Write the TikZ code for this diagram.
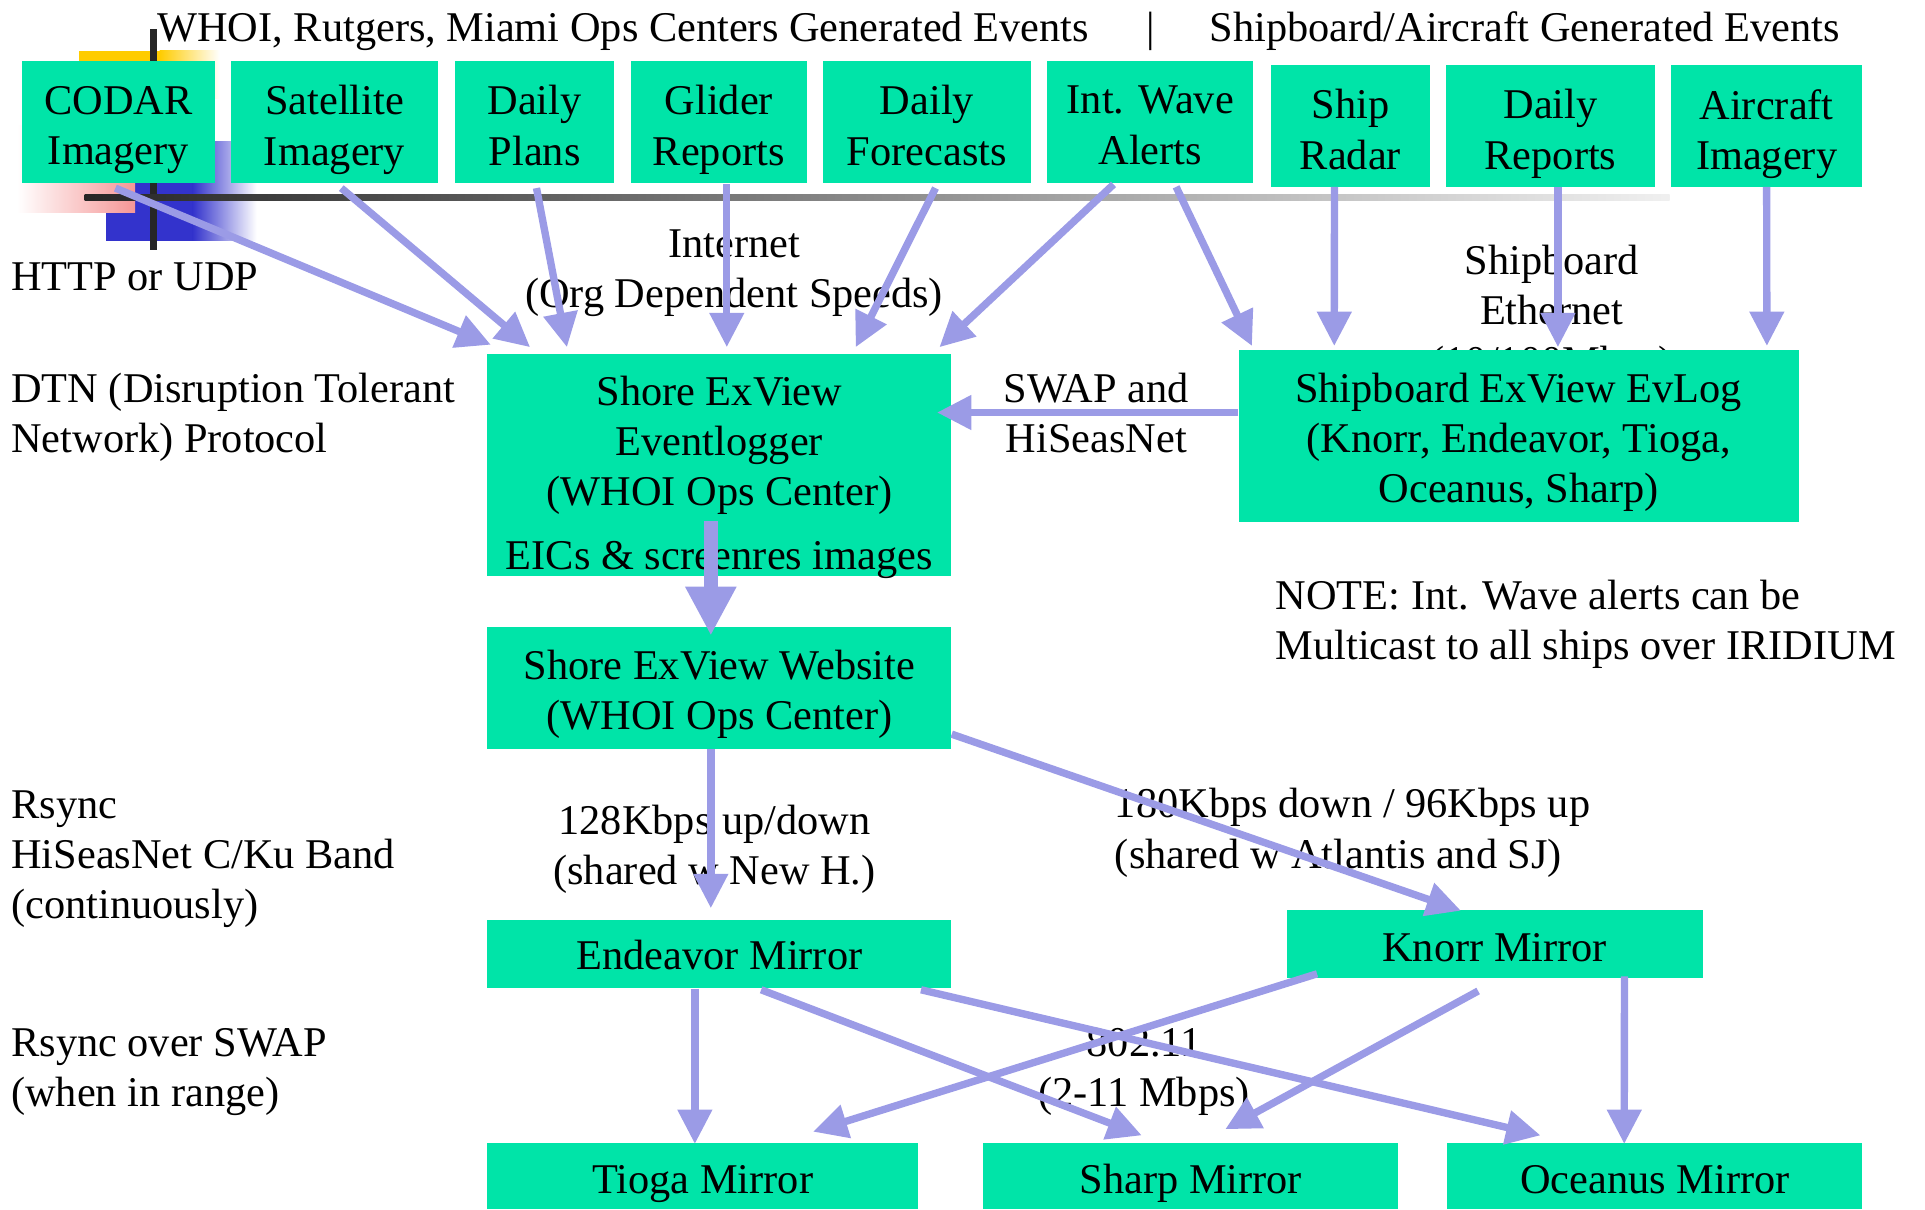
\documentclass[tikz,border=0pt]{standalone}
\usepackage{fontspec}
\setmainfont{Liberation Serif}
\usetikzlibrary{arrows.meta,calc}
\definecolor{boxgreen}{RGB}{0,228,168}
\definecolor{arrowc}{RGB}{155,155,230}
\definecolor{logoblue}{RGB}{51,51,204}
\definecolor{logoyellow}{RGB}{255,204,0}
\definecolor{logopink}{RGB}{245,150,150}
\tikzset{
  box/.style={fill=boxgreen, draw=none, inner sep=0pt},
  txt/.style={inner sep=0pt, align=center, font=\fontsize{34.5}{41}\selectfont,
    execute at begin node=\strut, execute at end node=\strut},
  ltxt/.style={txt, align=left, anchor=west},
  conn/.style={draw=arrowc, line width=6pt, -{Triangle[width=27pt,length=28pt]}},
  bigconn/.style={draw=arrowc, line width=11pt, -{Triangle[width=39pt,length=40pt]}}
}
\begin{document}
\begin{tikzpicture}[x=1pt,y=-1pt]
\useasboundingbox (0,0) rectangle (1568,985);
% logo decoration
\fill[logoyellow] (64,41.5) rectangle (130,80);
\shade[left color=logoyellow, right color=white] (130,41.5) rectangle (179,80);
\fill[logoblue] (86,115) rectangle (157,196);
\shade[left color=logoblue, right color=white] (157,115) rectangle (209,196);
\shade[left color=white, right color=logopink] (14,102) rectangle (110,173);
\fill[black!85] (122.5,24) rectangle (127.5,204);
\shade[left color=black!85, right color=black!6] (69,158.5) rectangle (1360,163.5);

% background texts that boxes partly cover
\node[txt] (ethernet) at (1264,258.7) {Shipboard\\Ethernet\\(10/100Mbps)};

% boxes
\node[box, minimum width=157pt, minimum height=99pt] (codar) at (96.5,99.5) {};
\node[box, minimum width=169pt, minimum height=99pt] (sat) at (272.5,99.5) {};
\node[box, minimum width=129pt, minimum height=99pt] (plans) at (435.5,99.5) {};
\node[box, minimum width=143pt, minimum height=99pt] (glider) at (585.5,99.5) {};
\node[box, minimum width=170pt, minimum height=99pt] (fcst) at (755,99.5) {};
\node[box, minimum width=168pt, minimum height=99pt] (iwave) at (937,99.5) {};
\node[box, minimum width=130pt, minimum height=99pt] (radar) at (1100,102.5) {};
\node[box, minimum width=170pt, minimum height=99pt] (reports) at (1263,102.5) {};
\node[box, minimum width=156pt, minimum height=99pt] (aircraft) at (1439,102.5) {};
\node[box, minimum width=378pt, minimum height=181pt] (evl) at (586,378.5) {};
\node[box, minimum width=456pt, minimum height=140pt] (sbl) at (1237,355) {};
\node[box, minimum width=378pt, minimum height=99pt] (web) at (586,560.5) {};
\node[box, minimum width=378pt, minimum height=56pt] (endeavor) at (586,777) {};
\node[box, minimum width=339pt, minimum height=56pt] (knorr) at (1217.5,769) {};
\node[box, minimum width=351pt, minimum height=54pt] (tioga) at (572.5,958) {};
\node[box, minimum width=338pt, minimum height=54pt] (sharp) at (970,958) {};
\node[box, minimum width=338pt, minimum height=54pt] (oceanus) at (1348,958) {};

% box texts
\node[txt] (codar-t) at (96.5,108.2) {CODAR\\Imagery};
\node[txt] (sat-t) at (272.5,108.2) {Satellite\\Imagery};
\node[txt] (plans-t) at (435.5,108.2) {Daily\\Plans};
\node[txt] (glider-t) at (585.5,108.2) {Glider\\Reports};
\node[txt] (fcst-t) at (755,108.2) {Daily\\Forecasts};
\node[txt] (iwave-t) at (937,108.2) {Int. Wave\\Alerts};
\node[txt] (radar-t) at (1100,111.5) {Ship\\Radar};
\node[txt] (reports-t) at (1263,111.5) {Daily\\Reports};
\node[txt] (aircraft-t) at (1439,111.5) {Aircraft\\Imagery};
\node[txt] (evl-t) at (586,391.2) {Shore ExView\\Eventlogger\\(WHOI Ops Center)\\[11pt]EICs \& screenres images};
\node[txt] (sbl-t) at (1237,362.7) {Shipboard ExView EvLog\\(Knorr, Endeavor, Tioga,\\Oceanus, Sharp)};
\node[txt] (web-t) at (586,568.2) {Shore ExView Website\\(WHOI Ops Center)};
\node[txt] (endeavor-t) at (586,781.2) {Endeavor Mirror};
\node[txt] (knorr-t) at (1217.5,775.2) {Knorr Mirror};
\node[txt] (tioga-t) at (572.5,964.2) {Tioga Mirror};
\node[txt] (sharp-t) at (970,964.2) {Sharp Mirror};
\node[txt] (oceanus-t) at (1348,964.2) {Oceanus Mirror};

% free texts
\node[ltxt] (title1) at (128,25.2) {WHOI, Rutgers, Miami Ops Centers Generated Events};
\node[txt] (bar) at (937,25.2) {|};
\node[ltxt] (title2) at (985,25.2) {Shipboard/Aircraft Generated Events};
\node[ltxt] (http) at (9,228.2) {HTTP or UDP};
\node[txt] (internet) at (598,225.2) {Internet\\(Org Dependent Speeds)};
\node[ltxt] (dtn) at (9,342.2) {DTN (Disruption Tolerant\\Network) Protocol};
\node[txt] (swap) at (893,342.2) {SWAP and\\HiSeasNet};
\node[ltxt] (note) at (1039,511.2) {NOTE: Int. Wave alerts can be\\Multicast to all ships over IRIDIUM};
\node[ltxt] (rsync) at (9,702.2) {Rsync\\HiSeasNet C/Ku Band\\(continuously)};
\node[txt] (bw1) at (582,694.2) {128Kbps up/down\\(shared w New H.)};
\node[ltxt] (bw2) at (908,680.7) {180Kbps down / 96Kbps up\\(shared w Atlantis and SJ)};
\node[ltxt] (rswap) at (9,875.7) {Rsync over SWAP\\(when in range)};
\node[txt] (wifi) at (932,875.7) {802.11\\(2-11 Mbps)};

% connectors
\draw[conn] ($(codar.south)+(-2.5,4)$) -- ($(evl.north west)+(3,-7)$);
\draw[conn] ($(sat.south)+(5.5,4)$) -- ($(evl.north west)+(35,-5)$);
\draw[conn] ($(plans.south)+(1.5,4)$) -- ($(evl.north west)+(65,-5)$);
\draw[conn] ($(glider.south)+(6.5,1)$) -- ($(evl.north)+(6,-5)$);
\draw[conn] ($(fcst.south)+(7,4)$) -- ($(evl.north)+(111,-5)$);
\draw[conn] ($(iwave.south)+(-30,1)$) -- ($(evl.north east)+(-10,-5)$);
\draw[conn] ($(iwave.south)+(21,3)$) -- ($(sbl.north west)+(11,-3)$);
\draw[conn] ($(radar.south)+(-13,0)$) -- ($(sbl.north west)+(78,-3)$);
\draw[conn] ($(reports.south)+(6,0)$) -- ($(sbl.north)+(32,-2)$);
\draw[conn] (aircraft.south) -- ($(sbl.north east)+(-26,-3)$);
\draw[conn] ($(sbl.west)+(0,-19)$) -- ($(evl.east)+(-12,-42.5)$);
\draw[bigconn] ($(evl.center)+(-7,45.5)$) -- ($(web.north)+(-7,7)$);
\draw[conn] ($(web.south)+(-7,0)$) -- ($(endeavor.north)+(-7,-9)$);
\draw[conn] ($(web.east)+(0,37.5)$) -- ($(knorr.north)+(-27.5,1)$);
\draw[conn] ($(endeavor.south)+(-20,0)$) -- ($(tioga.north)+(-6.5,1)$);
\draw[conn] ($(endeavor.south)+(34,1)$) -- ($(sharp.north)+(-40,-6)$);
\draw[conn] ($(endeavor.south east)+(-25,1)$) -- ($(oceanus.north west)+(76,-6)$);
\draw[conn] ($(knorr.south west)+(25,-4)$) -- ($(tioga.north east)+(-86,-9)$);
\draw[conn] ($(knorr.south)+(-13.5,10)$) -- ($(sharp.north)+(28,-11)$);
\draw[conn] ($(knorr.south east)+(-64,-2)$) -- ($(oceanus.north)+(-25,1)$);
\end{tikzpicture}
\end{document}
